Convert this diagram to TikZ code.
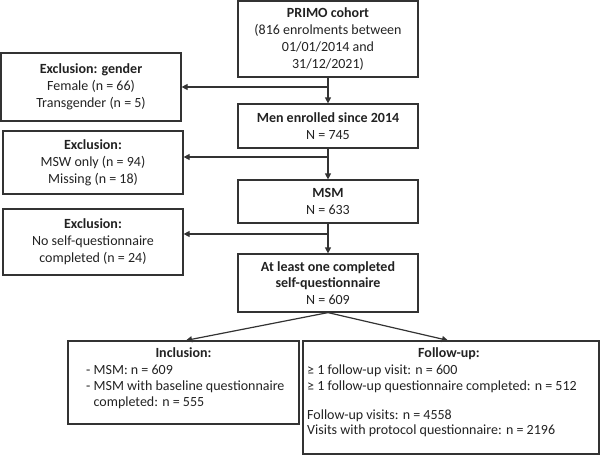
\documentclass[tikz,border=0pt]{standalone}
\usepackage{fontspec}
\setmainfont{Carlito}
\usetikzlibrary{arrows.meta}
\definecolor{ink}{HTML}{222222}
\definecolor{edge}{HTML}{333333}
\begin{document}
\begin{tikzpicture}[x=1pt,y=-1pt,
  box/.style={draw=edge, line width=1.2pt, align=center, inner sep=0pt, text=ink,
    font=\fontsize{14}{16.8}\selectfont},
  frame/.style={draw=edge, line width=1.2pt, inner sep=0pt},
  txt/.style={inner sep=0pt, text=ink, font=\fontsize{14}{15.8}\selectfont},
  arr/.style={draw=edge, line width=1.2pt, -{Triangle[length=6pt,width=6pt]}}]
\useasboundingbox (0,0) rectangle (600,455);
% main column
\node[box, minimum width=180pt, minimum height=76pt] (primo) at (328,39)
  {\textbf{PRIMO cohort}\\(816 enrolments between\\01/01/2014 and\\31/12/2021)};
\node[box, minimum width=180pt, minimum height=44pt] (men) at (328,126)
  {\textbf{Men enrolled since 2014}\\N = 745};
\node[box, minimum width=180pt, minimum height=43pt] (msm) at (328,201.5)
  {\textbf{MSM}\\N = 633};
\node[box, minimum width=180pt, minimum height=58pt] (atleast) at (328,283)
  {\textbf{At least one completed}\\\textbf{self-questionnaire}\\N = 609};
% exclusions
\node[box, minimum width=180pt, minimum height=68pt] (excl1) at (91,87)
  {\textbf{Exclusion: gender}\\Female (n = 66)\\Transgender (n = 5)};
\node[box, minimum width=180pt, minimum height=63pt] (excl2) at (93,162.5)
  {\textbf{Exclusion:}\\MSW only (n = 94)\\Missing (n = 18)};
\node[box, minimum width=180pt, minimum height=66pt] (excl3) at (93,242)
  {\textbf{Exclusion:}\\No self-questionnaire\\completed (n = 24)};
% bottom boxes
\node[frame, minimum width=231pt, minimum height=83pt] (incl) at (183.5,382.5) {};
\node[txt, anchor=base] (inclT) at (183.5,357.7) {\textbf{Inclusion:}};
\node[txt, anchor=north west, align=left] (inclB) at (86,362.3)
  {\rule{0pt}{12pt}- MSM: n = 609\\- MSM with baseline questionnaire\\\phantom{- }completed: n = 555};
\node[frame, minimum width=296pt, minimum height=113pt] (fu) at (451,397.5) {};
\node[txt, anchor=base] (fuT) at (449,357.7) {\textbf{Follow-up:}};
\node[txt, anchor=north west, align=left] (fuB) at (307,362.7)
  {\rule{0pt}{12pt}≥ 1 follow-up visit: n = 600\\≥ 1 follow-up questionnaire completed: n = 512\\[12.5pt]Follow-up visits: n = 4558\\Visits with protocol questionnaire: n = 2196};
% branch points
\coordinate (b1) at (328,87);
\coordinate (b2) at (328,157);
\coordinate (b3) at (328,234);
% connectors
\draw[arr] (primo.south) -- (men.north);
\draw[arr] (men.south) -- (msm.north);
\draw[arr] (msm.south) -- (atleast.north);
\draw[arr] (b1) -- (excl1.east |- b1);
\draw[arr] (b2) -- (excl2.east |- b2);
\draw[arr] (b3) -- (excl3.east |- b3);
\draw[arr] (atleast.south) -- ([xshift=2.5pt]incl.north);
\draw[arr] (atleast.south) -- ([xshift=-3pt]fu.north);
\end{tikzpicture}
\end{document}
